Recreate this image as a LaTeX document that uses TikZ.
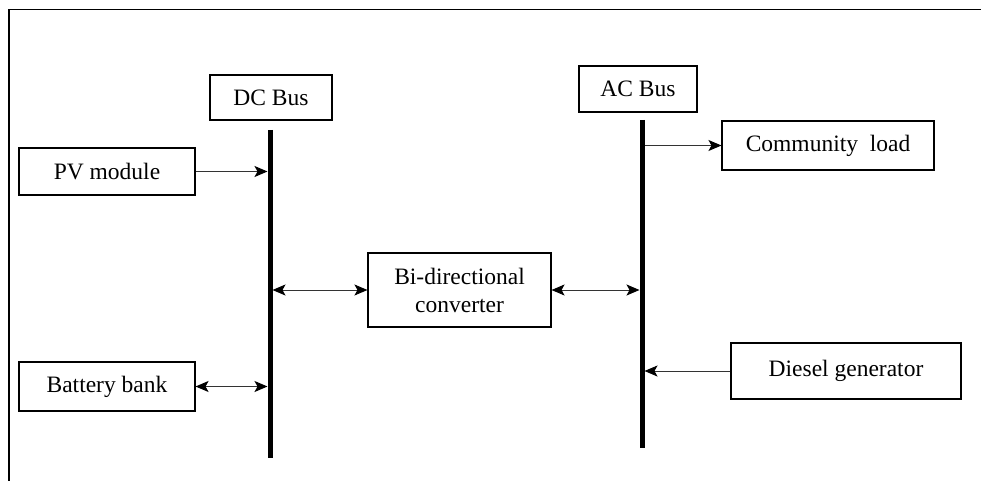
\documentclass[tikz,border=0pt]{standalone}
\usepackage{fontspec}
\setmainfont{Liberation Serif}
\usetikzlibrary{arrows.meta}
\tikzset{>={Stealth[length=13pt, width=11pt, inset=3pt, color=black]}}
\tikzset{
    unit/.style = {draw, line width = 1.1pt, inner sep = 0pt, align = center,
                   font = \fontsize{23.5}{28}\selectfont},
    bus/.style  = {line width = 5pt},
    link/.style = {line width = 1pt, black!80, shorten > = 2.5pt}
}

\begin{document}
\begin{tikzpicture}[x = 1pt, y = -1pt]
    \useasboundingbox (0,0) rectangle (981,481);
    % frame
    \draw[line width = 1.6pt] (9,481) -- (9,9.5) -- (981,9.5);
    % buses
    \node[unit, minimum width = 122pt, minimum height = 45pt] (dclabel) at (271,97.5) {DC Bus};
    \node[unit, minimum width = 118pt, minimum height = 46pt] (aclabel) at (638,89) {AC Bus};
    \coordinate (dctop) at (270,130);
    \coordinate (dcbot) at (270,458);
    \coordinate (actop) at (642,120);
    \coordinate (acbot) at (642,448);
    \draw[bus] (dctop) -- (dcbot);
    \draw[bus] (actop) -- (acbot);
    % units
    \node[unit, minimum width = 176pt, minimum height = 47pt] (pv) at (107,171.5) {PV module};
    \node[unit, minimum width = 176pt, minimum height = 49pt] (battery) at (107,386.5) {Battery bank};
    \node[unit, minimum width = 183pt, minimum height = 74pt] (conv) at (459.5,290) {Bi-directional\\converter};
    \node[unit, minimum width = 212pt, minimum height = 49pt] (load) at (828,145.5) {Community~~load};
    \node[unit, minimum width = 230pt, minimum height = 56pt] (diesel) at (846,371) {Diesel generator};
    % connections
    \draw[link, ->] (pv) -- (pv -| dctop);
    \draw[link, <->] (battery) -- (battery -| dctop);
    \draw[link, <->, shorten < = 2.5pt, shorten > = 0pt] (conv -| dctop) -- (conv);
    \draw[link, <->] (conv) -- (conv -| actop);
    \draw[link, ->, shorten > = 0pt, shorten < = 2.5pt] (load -| actop) -- (load);
    \draw[link, ->] (diesel) -- (diesel -| actop);
\end{tikzpicture}
\end{document}
